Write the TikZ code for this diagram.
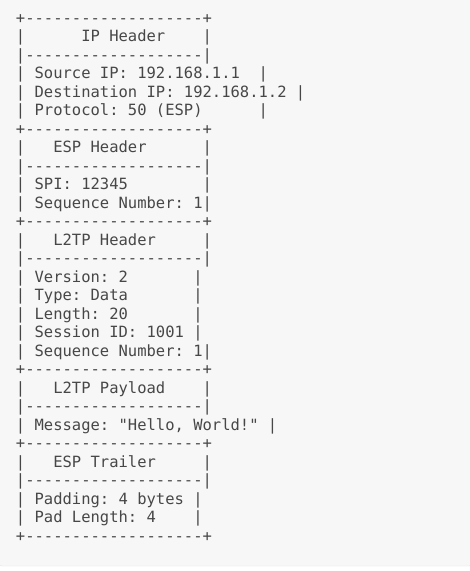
\documentclass[tikz,border=0pt]{standalone}
\usepackage{fontspec}
\setmonofont{DejaVu Sans Mono}
\usetikzlibrary{calc}
\definecolor{asciigray}{HTML}{474747}
\definecolor{panelbg}{HTML}{F7F7F7}
\definecolor{panelline}{HTML}{E2E2E2}

\begin{document}
\frenchspacing
\begin{tikzpicture}[x=1pt, y=1pt]

\tikzset{
ascii/.style={anchor=base west,inner sep=0pt,text=asciigray,font=\ttfamily\fontsize{15.5}{18.5}\selectfont},
panel/.style={fill=panelbg,draw=panelline,rounded corners=4pt}
}

% Frame
\useasboundingbox (0,0) rectangle (470,-571);
\filldraw[panel] (-2,6) rectangle (473,-566);

% Nodes
\coordinate (orig) at (15.8,-23);
\coordinate (row) at (0,-18.5);

% IP header
\node[ascii] (ipTop) at ($(orig) + 0*(row)$) {+-------------------+};
\node[ascii] (ipTitle) at ($(orig) + 1*(row)$) {|~~~~~~IP Header~~~~|};
\node[ascii] (ipSep) at ($(orig) + 2*(row)$) {|-------------------|};
\node[ascii] (ipSrc) at ($(orig) + 3*(row)$) {|~Source IP: 192.168.1.1~~|};
\node[ascii] (ipDst) at ($(orig) + 4*(row)$) {|~Destination IP: 192.168.1.2~|};
\node[ascii] (ipProto) at ($(orig) + 5*(row)$) {|~Protocol: 50 (ESP)~~~~~~|};

% ESP header
\node[ascii] (espTop) at ($(orig) + 6*(row)$) {+-------------------+};
\node[ascii] (espTitle) at ($(orig) + 7*(row)$) {|~~~ESP Header~~~~~~|};
\node[ascii] (espSep) at ($(orig) + 8*(row)$) {|-------------------|};
\node[ascii] (espSpi) at ($(orig) + 9*(row)$) {|~SPI: 12345~~~~~~~~|};
\node[ascii] (espSeq) at ($(orig) + 10*(row)$) {|~Sequence Number: 1|};

% L2TP header
\node[ascii] (ltTop) at ($(orig) + 11*(row)$) {+-------------------+};
\node[ascii] (ltTitle) at ($(orig) + 12*(row)$) {|~~~L2TP Header~~~~~|};
\node[ascii] (ltSep) at ($(orig) + 13*(row)$) {|-------------------|};
\node[ascii] (ltVer) at ($(orig) + 14*(row)$) {|~Version: 2~~~~~~~|};
\node[ascii] (ltType) at ($(orig) + 15*(row)$) {|~Type: Data~~~~~~~|};
\node[ascii] (ltLen) at ($(orig) + 16*(row)$) {|~Length: 20~~~~~~~|};
\node[ascii] (ltSess) at ($(orig) + 17*(row)$) {|~Session ID: 1001~|};
\node[ascii] (ltSeq) at ($(orig) + 18*(row)$) {|~Sequence Number: 1|};

% L2TP payload
\node[ascii] (payTop) at ($(orig) + 19*(row)$) {+-------------------+};
\node[ascii] (payTitle) at ($(orig) + 20*(row)$) {|~~~L2TP Payload~~~~|};
\node[ascii] (paySep) at ($(orig) + 21*(row)$) {|-------------------|};
\node[ascii] (payMsg) at ($(orig) + 22*(row)$) {|~Message: "Hello, World!"~|};

% ESP trailer
\node[ascii] (trTop) at ($(orig) + 23*(row)$) {+-------------------+};
\node[ascii] (trTitle) at ($(orig) + 24*(row)$) {|~~~ESP Trailer~~~~~|};
\node[ascii] (trSep) at ($(orig) + 25*(row)$) {|-------------------|};
\node[ascii] (trPad) at ($(orig) + 26*(row)$) {|~Padding: 4 bytes~|};
\node[ascii] (trPadLen) at ($(orig) + 27*(row)$) {|~Pad Length: 4~~~~|};
\node[ascii] (trBot) at ($(orig) + 28*(row)$) {+-------------------+};

\end{tikzpicture}
\end{document}
